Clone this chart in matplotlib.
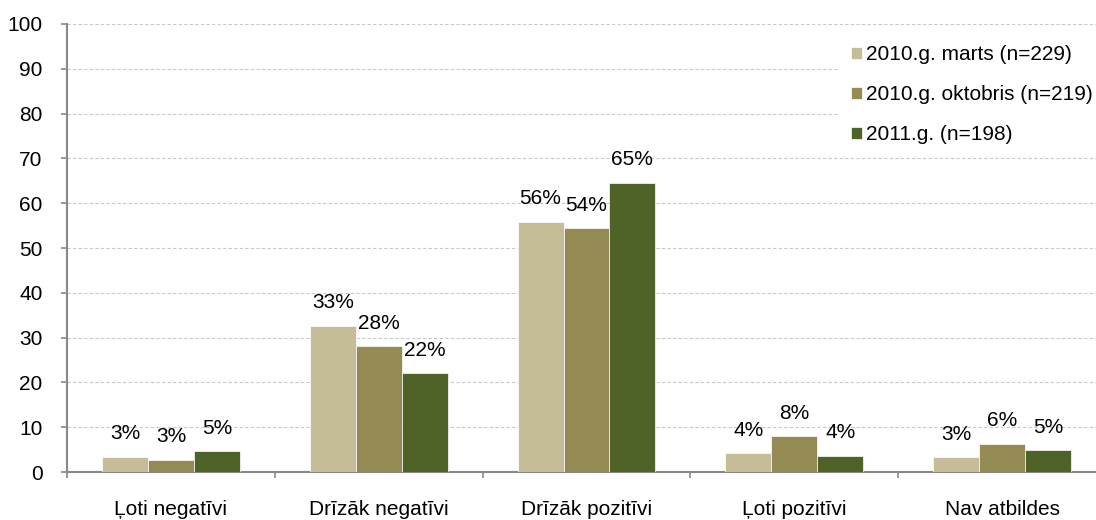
import matplotlib
matplotlib.use('Agg')
import matplotlib.pyplot as plt
import numpy as np

plt.rcParams['font.family'] = ['Liberation Sans', 'DejaVu Sans']
plt.rcParams['font.size'] = 15

categories = ['Ļoti negatīvi', 'Drīzāk negatīvi', 'Drīzāk pozitīvi', 'Ļoti pozitīvi', 'Nav atbildes']
series_names = ['2010.g. marts (n=229)', '2010.g. oktobris (n=219)', '2011.g. (n=198)']
marts = [3.4, 32.7, 55.9, 4.2, 3.3]
oktobris = [2.7, 28.1, 54.4, 8.0, 6.3]
g2011 = [4.6, 22.1, 64.6, 3.6, 4.9]
colors = ['#c4bd97', '#948a54', '#4f6228']

fig = plt.figure(figsize=(10.96, 5.2), dpi=100)
ax = fig.add_axes([67/1096, 1-472/520, 1039/1096, 448/520])

x = np.arange(len(categories))
w = 0.221
for k, (vals, name, c) in enumerate(zip([marts, oktobris, g2011], series_names, colors)):
    bars = ax.bar(x + (k-1)*w, vals, w, color=c, label=name, zorder=3,
                  edgecolor='white', linewidth=0.5)
    for b, v in zip(bars, vals):
        ax.annotate('%.0f%%' % v, (b.get_x() + b.get_width()/2, v),
                    xytext=(0, 16.5), textcoords='offset points',
                    ha='center', va='center', fontsize=15)

ax.set_xlim(-0.5, len(categories) - 0.5)
ax.set_ylim(0, 100)
ax.set_yticks(np.arange(0, 101, 10))
ax.set_xticks(x)
ax.set_xticklabels(categories)
ax.set_xticks(np.arange(-0.5, len(categories)), minor=True)
ax.tick_params(axis='x', which='major', length=0, pad=20)
ax.tick_params(axis='x', which='minor', length=4, width=1.2, color='#888888', direction='out')
ax.tick_params(axis='y', length=4.5, width=1.2, color='#888888', pad=13)

ax.yaxis.grid(True, color='#c8c8c8', linestyle=(0, (3, 2)), linewidth=0.8, zorder=0)
ax.set_axisbelow(True)
for s in ['top', 'right']:
    ax.spines[s].set_visible(False)
for s in ['left', 'bottom']:
    ax.spines[s].set_color('#888888')
    ax.spines[s].set_linewidth(1.5)

leg = ax.legend(loc='upper left', bbox_to_anchor=(838/1096, 1-33/520),
                bbox_transform=fig.transFigure, borderaxespad=0, borderpad=0.6,
                handlelength=0.53, handleheight=0.53, handletextpad=0.2,
                labelspacing=1.0, frameon=True, fancybox=False, fontsize=15)
leg.get_frame().set_facecolor('white')
leg.get_frame().set_edgecolor('none')
leg.get_frame().set_alpha(1)

fig.savefig('out.png', dpi=100)
